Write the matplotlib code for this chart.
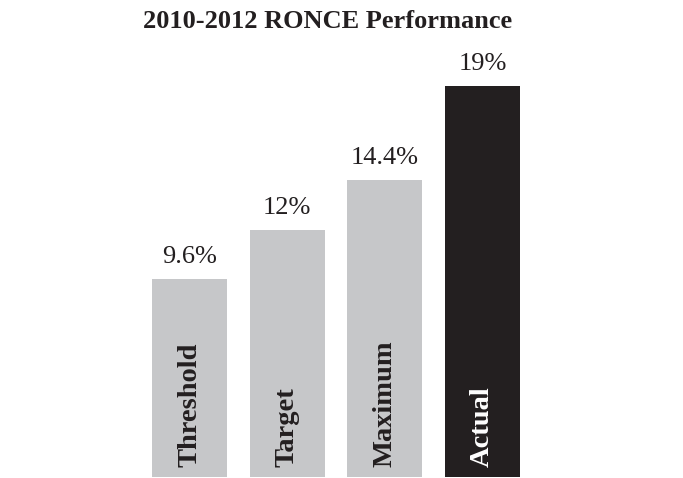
import matplotlib
matplotlib.use("Agg")
import matplotlib.pyplot as plt

categories = ["Threshold", "Target", "Maximum", "Actual"]
values = [9.6, 12, 14.4, 19]
value_labels = ["9.6%", "12%", "14.4%", "19%"]
bar_colors = ["#C6C7C9", "#C6C7C9", "#C6C7C9", "#231F20"]
text_colors = ["#231F20", "#231F20", "#231F20", "#FFFFFF"]

plt.rcParams["font.family"] = ["Liberation Serif", "DejaVu Serif"]

fig = plt.figure(figsize=(6.83, 4.78), dpi=100)
ax = fig.add_axes([0, 0, 1, 1])

x = list(range(len(categories)))
ax.bar(x, values, width=0.768, color=bar_colors)

# px per unit: x pitch ~97.7, y ~20.6
ax.set_xlim(-189.5 / 97.67, (683 - 189.5) / 97.67)
ax.set_ylim(-1 / 20.6, 477 / 20.6)
ax.axis("off")

for i, v in enumerate(values):
    ax.annotate(value_labels[i], (x[i], v), xytext=(0, 11.5), textcoords="offset points",
                ha="center", va="baseline", fontsize=19, color="#231F20")
    ax.annotate(categories[i], (x[i], 0), xytext=(0, 7), textcoords="offset points",
                ha="center", va="bottom", rotation=90, fontsize=20.5,
                fontweight="bold", color=text_colors[i])

fig.text(328 / 683, 1 - 22 / 478, "2010-2012 RONCE Performance", ha="center", va="center",
         fontsize=19, fontweight="bold", color="#231F20")

fig.savefig("out.png", dpi=100)
